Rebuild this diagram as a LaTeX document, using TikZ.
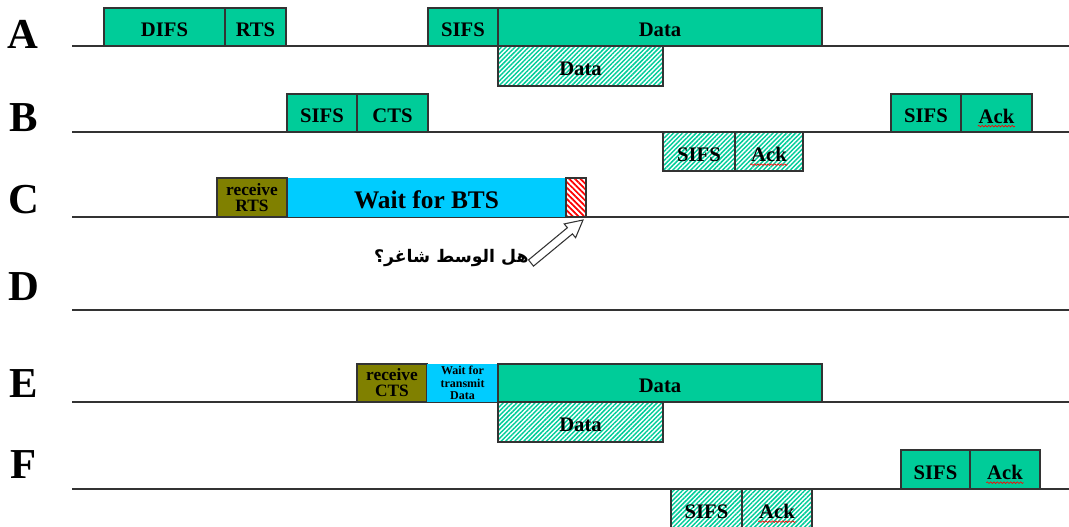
\documentclass[tikz,border=0pt]{standalone}
\usepackage{fontspec}
\setmainfont{Liberation Serif}
\newfontfamily\arabicfont[Script=Arabic]{DejaVu Sans}
\TeXXeTstate=1
\usetikzlibrary{patterns.meta,decorations.pathmorphing}

\definecolor{slotgreen}{HTML}{00CC99}
\definecolor{waitcyan}{HTML}{00CCFF}
\definecolor{rxolive}{HTML}{808000}
\definecolor{edge}{HTML}{333333}

\tikzset{
  lane/.style={draw=edge, line width=1pt},
  frame/.style={draw=edge, line width=1pt},
  tx/.style={frame, fill=slotgreen},
  rx/.style={frame, pattern={Lines[angle=45,distance=2.4pt,line width=1.1pt]}, pattern color=slotgreen},
  busy/.style={frame, pattern={Lines[angle=-45,distance=3pt,line width=1.3pt]}, pattern color=red},
  recv/.style={frame, fill=rxolive},
  wait/.style={fill=waitcyan},
  boxtext/.style={font=\fontsize{15.5}{17}\selectfont\bfseries, inner sep=0pt, yshift=-2.2pt},
  smalltext/.style={font=\fontsize{13}{12}\selectfont\bfseries, align=center, inner sep=0pt},
  tinytext/.style={font=\fontsize{9}{9.2}\selectfont\bfseries, align=center, inner sep=0pt},
  station/.style={font=\fontsize{32}{32}\selectfont\bfseries, anchor=base, inner sep=0pt},
  spell/.style={draw=red, line width=0.5pt, decorate, decoration={snake, amplitude=0.6pt, segment length=2.5pt}}
}

% \slot{name}{style}{x1}{y1}{x2}{y2}{text style}{text}
\newcommand{\slot}[8]{%
  \path[#2] (#3,#4) rectangle (#5,#6);
  \node[#7] (#1) at ({(#3+#5)/2},{(#4+#6)/2}) {#8};
}
% red spell-check squiggle under a label
\newcommand{\squiggle}[1]{%
  \draw[spell] ([xshift=-0.5pt,yshift=-2pt]#1.south west) -- ([xshift=0.5pt,yshift=-2pt]#1.south east);
}

\begin{document}
\begin{tikzpicture}[x=0.75pt,y=-0.75pt]
\useasboundingbox (0,0) rectangle (1069,526);

% station labels
\node[station] (lA) at (23,48) {A};
\node[station] (lB) at (24,131) {B};
\node[station] (lC) at (24,213) {C};
\node[station] (lD) at (24,300) {D};
\node[station] (lE) at (24,397) {E};
\node[station] (lF) at (24,478) {F};

% time lines
\draw[lane] (72,46) -- (1069,46);
\draw[lane] (72,132) -- (1069,132);
\draw[lane] (72,217) -- (1069,217);
\draw[lane] (72,310) -- (1069,310);
\draw[lane] (72,402) -- (1069,402);
\draw[lane] (72,489) -- (1069,489);

% A: sender
\slot{aDifs}{tx}{104}{8}{225}{46}{boxtext}{DIFS}
\slot{aRts}{tx}{225}{8}{286}{46}{boxtext}{RTS}
\slot{aSifs}{tx}{428}{8}{498}{46}{boxtext}{SIFS}
\slot{aData}{tx}{498}{8}{822}{46}{boxtext}{Data}
\slot{aDataRx}{rx}{498}{46}{663}{86}{boxtext}{Data}

% B: receiver
\slot{bSifs}{tx}{287}{94}{357}{132}{boxtext}{SIFS}
\slot{bCts}{tx}{357}{94}{428}{132}{boxtext}{CTS}
\slot{bSifs2}{tx}{891}{94}{961}{132}{boxtext}{SIFS}
\slot{bAck}{tx}{961}{94}{1032}{132}{boxtext}{Ack}
\squiggle{bAck}
\slot{bSifsRx}{rx}{663}{132}{735}{171}{boxtext}{SIFS}
\slot{bAckRx}{rx}{735}{132}{803}{171}{boxtext}{Ack}
\squiggle{bAckRx}

% C: overhears RTS
\slot{cWait}{wait}{287}{178}{566}{217}{font=\fontsize{19}{20}\selectfont\bfseries, inner sep=0pt, yshift=-1.8pt}{Wait for BTS}
\slot{cRecv}{recv}{217}{178}{287}{217}{smalltext}{receive\\RTS}
\slot{cBusy}{busy}{566}{178}{586}{217}{inner sep=0pt}{}

% carrier-sense question
\node[font=\arabicfont\fontsize{13}{14}\selectfont\bfseries, inner sep=0pt, anchor=east] (ask) at (529,258) {\beginR هل الوسط شاغر؟\endR};
\draw[draw=edge, line width=0.8pt, fill=white]
  (528.5,259.9) -- (567.4,227.7) -- (564.2,223.9) -- (583,220)
  -- (575.6,237.7) -- (572.4,233.9) -- (533.5,266.1) -- cycle;

% E: overhears CTS
\slot{eRecv}{recv}{357}{364}{427}{402}{smalltext}{receive\\CTS}
\slot{eWait}{wait}{427}{364}{498}{402}{tinytext}{Wait for\\transmit\\Data}
\slot{eData}{tx}{498}{364}{822}{402}{boxtext}{Data}
\slot{eDataRx}{rx}{498}{402}{663}{442}{boxtext}{Data}

% F
\slot{fSifs}{tx}{901}{450}{970}{489}{boxtext}{SIFS}
\slot{fAck}{tx}{970}{450}{1040}{489}{boxtext}{Ack}
\squiggle{fAck}
\slot{fSifsRx}{rx}{671}{489}{742}{528}{boxtext}{SIFS}
\slot{fAckRx}{rx}{742}{489}{812}{528}{boxtext}{Ack}
\squiggle{fAckRx}
\end{tikzpicture}
\end{document}
